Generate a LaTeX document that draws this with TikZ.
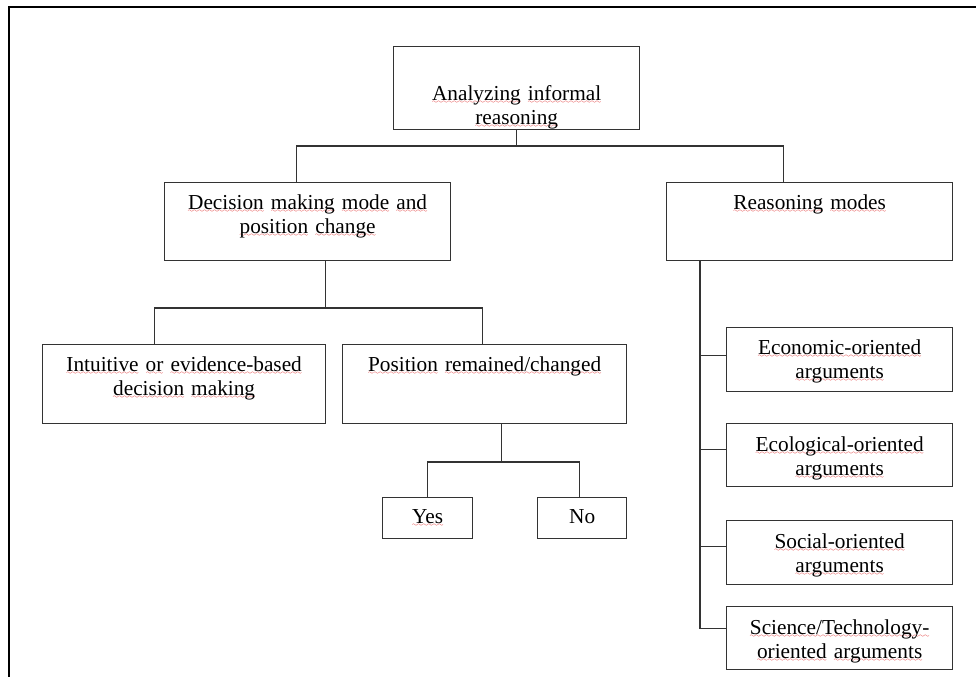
\documentclass[tikz,border=0pt]{standalone}
\usepackage{fontspec}
\setmainfont{Liberation Serif}
\usetikzlibrary{calc}
\font\spellwave=lasy6
\newcommand\spl[1]{\leavevmode\setbox0=\hbox{#1}\rlap{\lower3pt\hbox to\wd0{\color{red!85!black}\xleaders\hbox{\spellwave\char58}\hfil}}\box0\relax}

\begin{document}
\begin{tikzpicture}[x=1pt,y=-1pt,line width=1.3pt,color=black!80]
    \tikzstyle{box}=[draw, anchor=north west, inner sep=0pt, align=center, text height=27pt, text=black, font=\fontsize{21.3}{23.5}\selectfont]
    \tikzstyle{link}=[line width=1.2pt]
    \tikzstyle{frame}=[line width=2pt, black]

    \useasboundingbox (0,0) rectangle (976,677);
    \draw[frame] (976,7) -| (9,677);

    % top level
    \node[box, text width=246pt, text height=54pt, text depth=29pt] (root) at (393,46) {\spl{Analyzing} \spl{informal}\\\spl{reasoning}};
    \node[box, text width=286pt, text depth=51pt] (decision) at (164,182) {\spl{Decision} \spl{making} \spl{mode} \spl{and}\\\spl{position} \spl{change}};
    \node[box, text width=286pt, text depth=51pt] (modes) at (666,182) {\spl{Reasoning} \spl{modes}};

    % decision branch
    \node[box, text width=283pt, text depth=52pt] (intuitive) at (42,344) {\spl{Intuitive} \spl{or} \spl{evidence-based}\\\spl{decision} \spl{making}};
    \node[box, text width=284pt, text depth=52pt] (position) at (342,344) {\spl{Position} \spl{remained/changed}};
    \node[box, text width=90pt, text height=26pt, text depth=15pt] (yes) at (382,497) {\spl{Yes}};
    \node[box, text width=89pt, text height=26pt, text depth=15pt] (no) at (537,497) {No};

    % reasoning modes
    \node[box, text width=226pt, text depth=37pt] (economic) at (726,327) {\spl{Economic-oriented}\\\spl{arguments}};
    \node[box, text width=226pt, text height=28pt, text depth=35pt] (ecological) at (726,423) {\spl{Ecological-oriented}\\\spl{arguments}};
    \node[box, text width=226pt, text height=28pt, text depth=36pt] (social) at (726,520) {\spl{Social-oriented}\\\spl{arguments}};
    \node[box, text width=226pt, text height=28pt, text depth=35pt] (science) at (726,606) {\spl{Science/Technology-}\\\spl{oriented} \spl{arguments}};

    % connectors
    \draw[link] ([xshift=-11pt]decision.north) -- ++(0,-36) coordinate (bar1) -| ([xshift=-26pt]modes.north);
    \draw[link] (root.south) -- (root.south |- bar1);
    \draw[link] ([xshift=-30pt]intuitive.north) -- ++(0,-36) coordinate (bar2) -| ([xshift=-2pt]position.north);
    \draw[link] ([xshift=18pt]decision.south) -- ([xshift=18pt]decision.south |- bar2);
    \draw[link] (yes.north) -- ++(0,-35) coordinate (bar3) -| ([xshift=-3pt]no.north);
    \draw[link] ([xshift=17pt]position.south) -- ([xshift=17pt]position.south |- bar3);
    \draw[link] ([xshift=34pt]modes.south west) |- ([yshift=10pt]science.west);
    \foreach \n/\d in {economic/4,ecological/6,social/6}
        \draw[link] ([yshift=\d pt]\n.west) -- ++(-26,0);
\end{tikzpicture}
\end{document}
